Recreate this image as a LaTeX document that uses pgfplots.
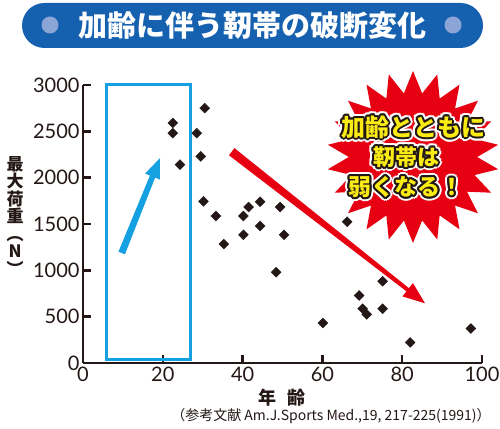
\documentclass[border=0pt]{standalone}
\usepackage{pgfplots}
\pgfplotsset{compat=1.18}
\usepackage{fontspec}
\setmainfont{Lato}
\newfontfamily\cjk{Noto Sans CJK JP}
\usetikzlibrary{calc,shapes.geometric}

\definecolor{ink}{RGB}{35,24,21}
\definecolor{titleblue}{RGB}{22,96,176}
\definecolor{dotblue}{RGB}{140,165,215}
\definecolor{boxblue}{RGB}{20,160,225}
\definecolor{hotred}{RGB}{230,0,18}
\definecolor{popyellow}{RGB}{250,235,20}

% outlined pop text: x, y, size, text
\newcommand\popline[4]{%
  \foreach \a in {0,20,...,340}
    \node[text=white, font=\cjk\bfseries\fontsize{#3}{#3}\selectfont] at ($(#1,#2)+(\a:4)$) {#4};
  \foreach \a in {0,30,...,330}
    \node[text=ink, font=\cjk\bfseries\fontsize{#3}{#3}\selectfont] at ($(#1,#2)+(\a:2)$) {#4};
  \node[text=popyellow, font=\cjk\bfseries\fontsize{#3}{#3}\selectfont] at (#1,#2) {#4};
}

\pgfplotstableread{
age  load
22.5 2590
22.5 2480
24.3 2140
28.5 2480
29.5 2230
30.5 2750
30.2 1745
33.3 1586
35.3 1283
40.2 1586
40.2 1383
41.5 1683
44.4 1740
44.4 1479
48.4 979
49.4 1683
50.4 1383
60.1 432
66.2 1525
69.2 729
70.1 586
71.1 525
75.1 882
75.1 586
82.0 222
97.2 372
}\ligament

\begin{document}
\begin{tikzpicture}[x=1pt,y=1pt]
\useasboundingbox (0,0) rectangle (500,428);
\fill[white] (0,0) rectangle (500,428);

% title bar
\fill[titleblue, rounded corners=22.5pt] (22,380) rectangle (483,425);
\fill[dotblue] (50,403) circle (8.5);
\fill[dotblue] (453,403) circle (8.5);
\node[text=white, font=\cjk\bfseries\fontsize{29}{30}\selectfont] at (252,402) {加齢に伴う靭帯の破断変化};

\begin{axis}[
  at={(83pt,65pt)}, anchor=south west,
  scale only axis, width=399pt, height=278pt,
  xmin=0, xmax=100, ymin=0, ymax=3000,
  axis x line*=bottom, axis y line*=left,
  axis line style={line width=2.5pt, color=ink},
  xtick={0,20,...,100}, ytick={0,500,...,3000},
  tick align=inside, major tick length=8pt,
  tick style={line width=2.5pt, color=ink},
  tick label style={font=\fontsize{20}{20}\selectfont, text=ink},
  /pgf/number format/assume math mode=true,
  /pgf/number format/set thousands separator={},
  clip=false,
]
\addplot[only marks, mark=square*, mark size=3.5pt,
  mark options={rotate=45, fill=ink, draw=ink}] table[x=age, y=load] {\ligament};
\end{axis}

% blue box and arrow
\draw[boxblue, line width=3pt] (106.5,343.3) rectangle (190,68.5);
\coordinate (BA) at (121.7,175);
\coordinate (BB) at (160,270);
\coordinate (BH) at ($(BB)!20pt!(BA)$);
\fill[boxblue] ($(BA)!3.5pt!90:(BB)$) -- ($(BH)!2.8pt!-90:(BA)$) -- ($(BH)!8pt!-90:(BA)$)
  -- (BB) -- ($(BH)!8pt!90:(BA)$) -- ($(BH)!2.8pt!90:(BA)$) -- ($(BA)!3.5pt!-90:(BB)$) -- cycle;

% red arrow
\coordinate (RA) at (231.7,276.3);
\coordinate (RB) at (425,124.7);
\coordinate (RH) at ($(RB)!22pt!(RA)$);
\fill[hotred] ($(RA)!4.5pt!90:(RB)$) -- ($(RH)!2pt!-90:(RA)$) -- ($(RH)!8.5pt!-90:(RA)$)
  -- (RB) -- ($(RH)!8.5pt!90:(RA)$) -- ($(RH)!2pt!90:(RA)$) -- ($(RA)!4.5pt!-90:(RB)$) -- cycle;

% starburst
\node[star, star points=22, star point ratio=1.34, minimum size=172pt, inner sep=0pt,
  fill=hotred] at (413,271) {};
\popline{413}{301}{24}{加齢とともに}
\popline{406}{271}{22}{靭帯は}
\popline{406}{241}{23}{弱くなる！}

% axis titles
\node[font=\cjk\bfseries\fontsize{17}{17.5}\selectfont, align=center, inner sep=0pt, text=ink]
  at (15,212) {最\\大\\荷\\重\\︵\\N\\︶};
\node[font=\cjk\bfseries\fontsize{18}{18}\selectfont, text=ink] at (282,30) {年\hspace{12pt}齢};
\node[font=\cjk\fontsize{14}{14}\selectfont, text=ink] at (331,12)
  {（参考文献 Am.J.Sports Med.,19, 217-225(1991)）};
\end{tikzpicture}
\end{document}
